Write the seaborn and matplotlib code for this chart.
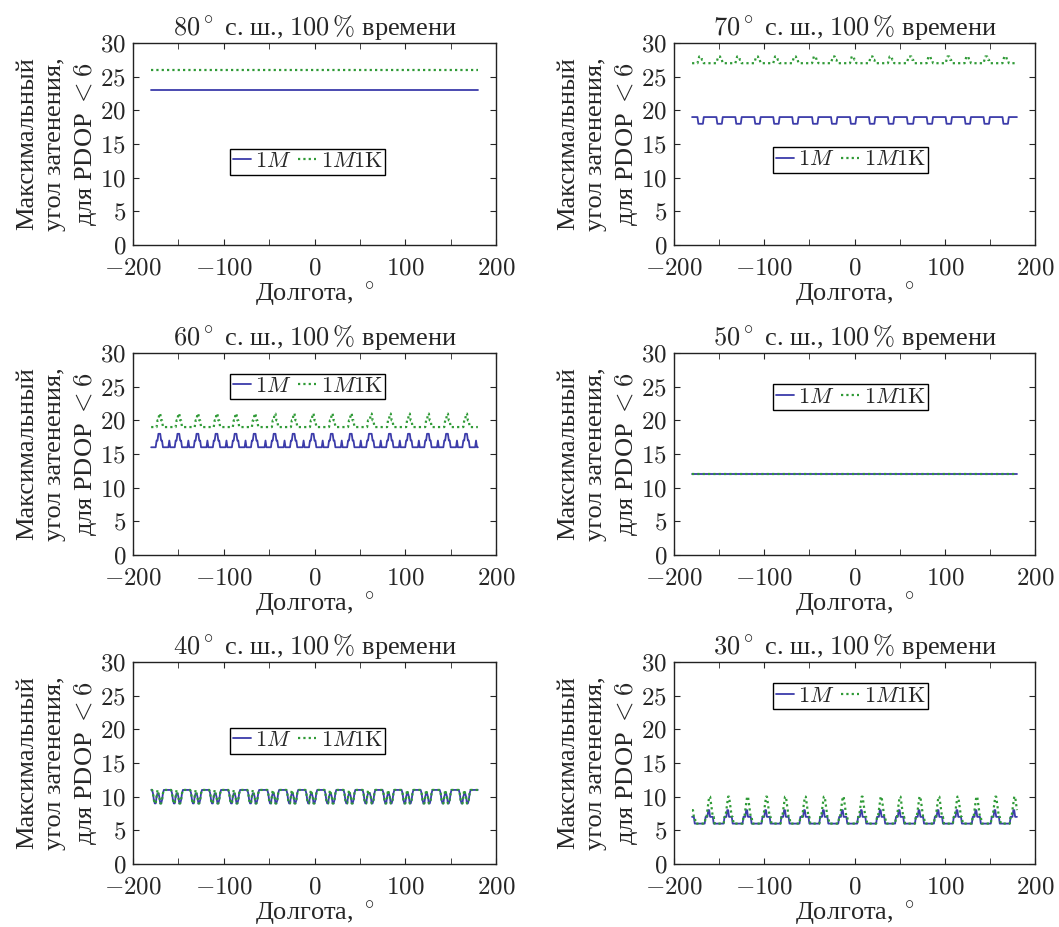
import numpy as np
import matplotlib
matplotlib.use("Agg")
import matplotlib.pyplot as plt
from matplotlib.ticker import MultipleLocator, FuncFormatter
import seaborn as sns

# Широты и профили одного периода (шаг 1°, период 360/17°)
latitudes = [80, 70, 60, 50, 40, 30]

prof_1m = {
    80: [23] * 21,
    70: [19, 19, 19, 19, 19, 19, 18, 18, 18, 18, 18, 18, 19, 19, 19, 19, 19, 19, 19, 19, 19],
    60: [16, 16, 16, 16, 16, 17, 17, 18, 18, 18, 17, 17, 16, 16, 16, 16, 16, 16, 16, 17, 16],
    50: [12] * 21,
    40: [11, 10.5, 9.5, 9, 9, 10, 10.5, 10.5, 10, 9, 9, 9.5, 10.5, 11, 11, 11, 11, 11, 11, 11, 11],
    30: [7, 7, 6, 6, 6, 6, 6, 6, 6, 6, 6, 6, 6, 6, 7, 7, 7, 8, 8, 7, 7],
}
prof_1m1k = {
    80: [26] * 21,
    70: [27, 27, 27, 27, 27, 27, 27.5, 28, 28, 28, 27.5, 27.5, 27, 27, 27, 27, 27, 27, 27, 27, 27],
    60: [19, 19, 19, 19, 19, 19, 20, 20, 21, 21, 20, 20, 19, 19, 19, 19, 19, 19, 19, 19, 19],
    50: [12] * 21,
    40: [11, 10.5, 9.5, 9, 9, 10, 11, 10.5, 10, 9, 9, 9.5, 10.5, 11, 11, 11, 11, 11, 11, 11, 11],
    30: [8, 7, 7, 6, 6, 6, 6, 6, 6, 6, 6, 6, 6, 6, 7, 7, 8, 9, 10, 10, 9],
}

# положение легенды (доля осей)
legend_pos = {80: (0.482, 0.413), 70: (0.49, 0.42), 60: (0.482, 0.834),
              50: (0.49, 0.78), 40: (0.482, 0.61), 30: (0.49, 0.83)}

lon = np.arange(-180, 181, 1)
period = 360 / 17


def series(profile):
    idx = (((lon + 180) % period) / period * len(profile)).astype(int)
    idx = np.clip(idx, 0, len(profile) - 1)
    return np.array(profile, dtype=float)[idx]


sns.set_style("ticks")
plt.rcParams["font.family"] = ["Liberation Serif", "DejaVu Serif"]
plt.rcParams["mathtext.fontset"] = "cm"
plt.rcParams["font.size"] = 15

fig = plt.figure(figsize=(10.59, 9.27), dpi=100)

W, H = 1059, 927
col_left = [133, 674]
col_width = [363, 361]
row_top = [43, 353, 662]
ax_h = 202

blue = "#3c3caa"
green = "#2f9a36"

for k, lat in enumerate(latitudes):
    r, c = divmod(k, 2)
    ax = fig.add_axes([col_left[c] / W, 1 - (row_top[r] + ax_h) / H,
                       col_width[c] / W, ax_h / H])
    sns.lineplot(x=lon, y=series(prof_1m[lat]), ax=ax, color=blue, linewidth=1.3,
                 label="$1M$")
    sns.lineplot(x=lon, y=series(prof_1m1k[lat]), ax=ax, color=green, linewidth=1.6,
                 linestyle=(0, (1, 1.4)), label=r"$1M1\mathrm{K}$")

    ax.set_xlim(-200, 200)
    ax.set_ylim(0, 30)
    ax.xaxis.set_major_locator(MultipleLocator(100))
    ax.xaxis.set_minor_locator(MultipleLocator(50))
    ax.yaxis.set_major_locator(MultipleLocator(5))
    ax.xaxis.set_major_formatter(FuncFormatter(lambda v, p: "$%g$" % v))
    ax.yaxis.set_major_formatter(FuncFormatter(lambda v, p: "$%g$" % v))
    ax.tick_params(which="both", direction="in", top=True, right=True,
                   labelsize=18)
    ax.tick_params(axis="x", pad=9)
    ax.tick_params(axis="y", pad=5)
    ax.tick_params(which="major", length=4)
    ax.tick_params(which="minor", length=4)
    for s in ax.spines.values():
        s.set_linewidth(1.0)
        s.set_color("#222222")

    ax.set_title(r"$%d^\circ$ с. ш., $100\,\%%$ времени" % lat, fontsize=19, pad=6)
    ax.set_xlabel(r"Долгота, $^\circ$", fontsize=19, labelpad=1)
    ax.set_ylabel("Максимальный\nугол затенения,\nдля PDOP $<6$", fontsize=19,
                  linespacing=1.3)
    ax.yaxis.set_label_coords(-0.095, 0.5)

    ax.legend(loc="center", bbox_to_anchor=legend_pos[lat], ncol=2, fontsize=16,
              frameon=True, fancybox=False, edgecolor="black", framealpha=1,
              handlelength=0.8, handletextpad=0.2, columnspacing=0.3,
              borderpad=0.12, borderaxespad=0)
    ax.get_legend().get_frame().set_linewidth(1.0)

fig.savefig("out.png", dpi=100)
